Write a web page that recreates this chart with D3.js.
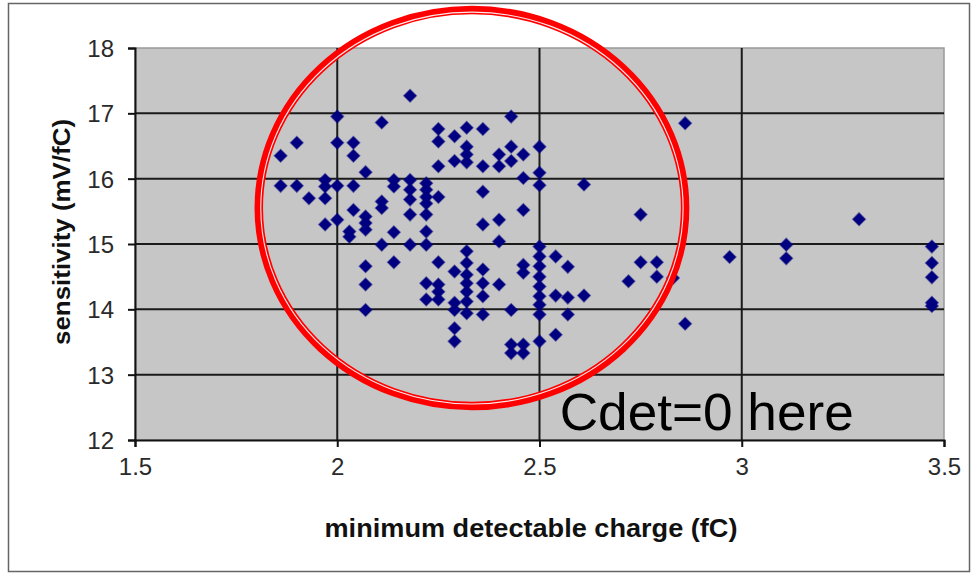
<!DOCTYPE html>
<html>
<head>
<meta charset="utf-8">
<script src="https://cdn.jsdelivr.net/npm/d3@7"></script>
<style>
  body { margin: 0; background: #fff; }
  svg { display: block; font-family: "Liberation Sans", Arial, sans-serif; }
</style>
</head>
<body>
<svg id="chart" width="976" height="575"></svg>
<script>
// minimum detectable charge (fC)
var charge = [
  1.86, 1.86, 1.90, 1.90, 1.93, 1.97, 1.97, 1.97, 1.97, 2.00,
  2.00, 2.00, 2.00, 2.04, 2.04, 2.04, 2.04, 2.03, 2.03, 2.07,
  2.07, 2.07, 2.07, 2.07, 2.07, 2.07, 2.11, 2.11, 2.11, 2.11,
  2.14, 2.14, 2.14, 2.14, 2.18, 2.18, 2.18, 2.18, 2.18, 2.18,
  2.22, 2.22, 2.22, 2.22, 2.22, 2.22, 2.22, 2.22, 2.22, 2.25,
  2.25, 2.25, 2.25, 2.25, 2.25, 2.25, 2.25, 2.29, 2.29, 2.29,
  2.29, 2.29, 2.29, 2.29, 2.32, 2.32, 2.32, 2.32, 2.32, 2.32,
  2.32, 2.32, 2.32, 2.32, 2.32, 2.36, 2.36, 2.36, 2.36, 2.36,
  2.36, 2.36, 2.36, 2.40, 2.40, 2.40, 2.40, 2.40, 2.43, 2.43,
  2.43, 2.43, 2.43, 2.43, 2.46, 2.46, 2.46, 2.46, 2.46, 2.46,
  2.46, 2.50, 2.50, 2.50, 2.50, 2.50, 2.50, 2.50, 2.50, 2.50,
  2.50, 2.50, 2.50, 2.54, 2.54, 2.54, 2.57, 2.57, 2.57, 2.61,
  2.61, 2.72, 2.75, 2.75, 2.79, 2.79, 2.83, 2.86, 2.86, 2.97,
  3.11, 3.11, 3.29, 3.47, 3.47, 3.47, 3.47, 3.47
];
// sensitivity (mV/fC)
var sensitivity = [
  16.35, 15.89, 16.55, 15.89, 15.70, 15.98, 15.88, 15.70, 15.30, 16.95,
  16.55, 15.89, 15.37, 16.55, 16.35, 15.89, 15.52, 15.19, 15.11, 16.10,
  15.42, 15.32, 15.22, 14.66, 14.38, 13.99, 16.86, 15.65, 15.55, 14.99,
  15.98, 15.88, 15.18, 14.72, 17.27, 15.98, 15.83, 15.68, 15.45, 14.99,
  15.93, 15.83, 15.72, 15.62, 15.45, 15.19, 14.99, 14.40, 14.15, 16.76,
  16.57, 16.19, 15.72, 14.72, 14.38, 14.27, 14.15, 16.65, 16.27, 14.58,
  14.10, 13.99, 13.71, 13.51, 16.78, 16.49, 16.37, 16.25, 14.89, 14.71,
  14.53, 14.40, 14.27, 14.12, 13.94, 16.76, 16.19, 15.80, 15.30, 14.61,
  14.40, 14.20, 13.92, 16.37, 16.19, 15.37, 15.04, 14.38, 16.95, 16.49,
  16.27, 13.99, 13.46, 13.33, 16.37, 16.01, 15.52, 14.68, 14.56, 13.46,
  13.33, 16.49, 16.09, 15.90, 14.96, 14.81, 14.66, 14.50, 14.35, 14.20,
  14.07, 13.92, 13.51, 14.81, 14.21, 13.61, 14.65, 14.18, 13.92, 15.91,
  14.21, 14.43, 15.45, 14.72, 14.72, 14.50, 14.48, 16.85, 13.78, 14.80,
  14.99, 14.78, 15.38, 14.96, 14.71, 14.49, 14.10, 14.05
];
var xTicks = [1.5, 2, 2.5, 3, 3.5];
var yTicks = [12, 13, 14, 15, 16, 17, 18];

// annotation: ellipse (data units) and note
var ringCenter = [2.333, 15.55];
var ringRadius = [0.527, 3.03];
var noteText = "Cdet=0 here";
var noteAt = [2.55, 12.15];

var svg = d3.select("#chart");

var x = d3.scaleLinear().domain([1.5, 3.5]).range([135, 944]);
var y = d3.scaleLinear().domain([12, 18]).range([440, 48]);

// outer frame
svg.append("rect")
  .attr("x", 8.5).attr("y", 3.5)
  .attr("width", 961).attr("height", 568)
  .attr("fill", "#fff")
  .attr("stroke", "#666")
  .attr("stroke-width", 1.5);

// plot area
svg.append("rect")
  .attr("x", x(1.5)).attr("y", y(18))
  .attr("width", x(3.5) - x(1.5))
  .attr("height", y(12) - y(18))
  .attr("fill", "#c6c6c6")
  .attr("stroke", "#999")
  .attr("stroke-width", 1.5);

var grid = svg.append("g").attr("stroke", "#1a1a1a").attr("stroke-width", 2);

grid.selectAll("line.h")
  .data(yTicks.slice(1, -1))
  .enter().append("line")
  .attr("x1", x(1.5)).attr("x2", x(3.5))
  .attr("y1", function (d) { return y(d); })
  .attr("y2", function (d) { return y(d); });

grid.selectAll("line.v")
  .data(xTicks.slice(1, -1))
  .enter().append("line")
  .attr("y1", y(18)).attr("y2", y(12))
  .attr("x1", function (d) { return x(d); })
  .attr("x2", function (d) { return x(d); });

// axes
var yAxis = d3.axisLeft(y).tickValues(yTicks).tickSize(7).tickPadding(14).tickFormat(d3.format("d"));
var xAxis = d3.axisBottom(x).tickValues(xTicks).tickSize(7).tickPadding(11).tickFormat(function (d) { return String(d); });

var gy = svg.append("g").attr("transform", "translate(" + x(1.5) + ",0)").call(yAxis);
var gx = svg.append("g").attr("transform", "translate(0," + y(12) + ")").call(xAxis);

[gx, gy].forEach(function (g) {
  g.select(".domain").attr("stroke", "#111").attr("stroke-width", 2);
  g.selectAll(".tick line").attr("stroke", "#111").attr("stroke-width", 2);
  g.selectAll("text")
    .attr("font-family", "Liberation Sans, Arial, sans-serif")
    .attr("font-size", 24)
    .attr("fill", "#2a2a2a");
});
gy.selectAll("text").attr("dy", "0.36em");

// points
var pts = d3.zip(charge, sensitivity);
svg.append("g")
  .selectAll("path")
  .data(pts)
  .enter().append("path")
  .attr("d", d3.symbol().type(d3.symbolSquare).size(78))
  .attr("transform", function (d) {
    return "translate(" + x(d[0]) + "," + y(d[1]) + ") rotate(45)";
  })
  .attr("fill", "#000080")
  .attr("stroke", "#000080")
  .attr("stroke-width", 1.5)
  .attr("stroke-opacity", 0.5);

// red double ring
var cx = x(ringCenter[0]), cy = y(ringCenter[1]);
var rx = x(ringCenter[0] + ringRadius[0]) - cx;
var ry = cy - y(ringCenter[1] + ringRadius[1]);
svg.append("ellipse")
  .attr("cx", cx).attr("cy", cy).attr("rx", rx).attr("ry", ry)
  .attr("fill", "none").attr("stroke", "#ff0000").attr("stroke-width", 8.5);
svg.append("ellipse")
  .attr("cx", cx).attr("cy", cy).attr("rx", rx - 2).attr("ry", ry - 2)
  .attr("fill", "none").attr("stroke", "#ffe8e8").attr("stroke-width", 1.1);

// note
svg.append("text")
  .attr("x", x(noteAt[0])).attr("y", y(noteAt[1]))
  .attr("font-size", 52)
  .attr("fill", "#000")
  .attr("textLength", 294)
  .attr("lengthAdjust", "spacingAndGlyphs")
  .text(noteText);

// axis titles
svg.append("text")
  .attr("x", 531).attr("y", 537)
  .attr("text-anchor", "middle")
  .attr("font-weight", "bold")
  .attr("font-size", 25)
  .attr("fill", "#111")
  .attr("textLength", 413)
  .attr("lengthAdjust", "spacingAndGlyphs")
  .text("minimum detectable charge (fC)");

svg.append("text")
  .attr("transform", "translate(70,232) rotate(-90)")
  .attr("text-anchor", "middle")
  .attr("font-weight", "bold")
  .attr("font-size", 23)
  .attr("fill", "#111")
  .attr("textLength", 226)
  .attr("lengthAdjust", "spacingAndGlyphs")
  .text("sensitivity (mV/fC)");
</script>
</body>
</html>
